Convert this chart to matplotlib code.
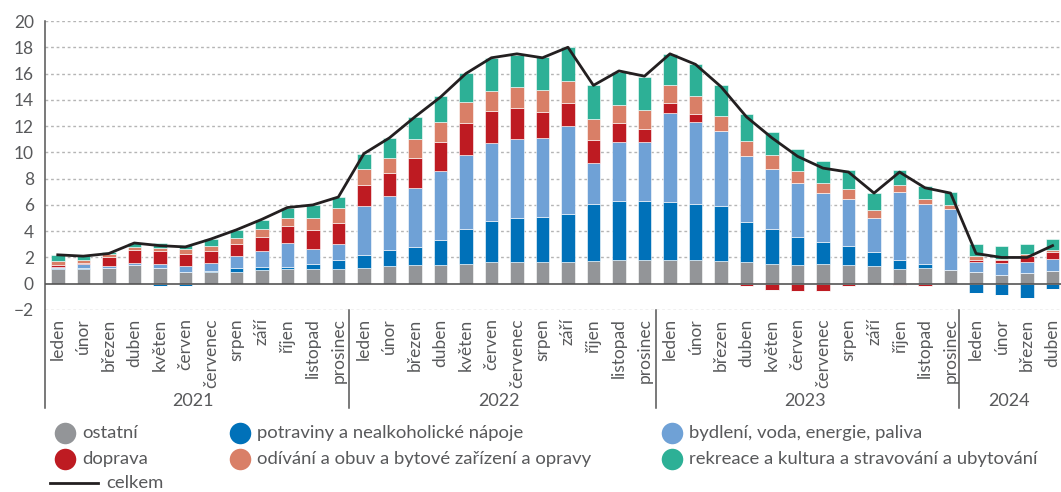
"""
Příspěvky složek ke meziroční inflaci, 2021-2024 (skládaný sloupcový graf + čára celkem).
"""

import numpy as np
import matplotlib
matplotlib.use("Agg")
import matplotlib.pyplot as plt
from matplotlib.lines import Line2D

plt.rcParams["font.family"] = ["Lato", "DejaVu Sans"]

MONTHS = ["leden", "únor", "březen", "duben", "květen", "červen", "červenec",
          "srpen", "září", "říjen", "listopad", "prosinec"]
YEARS = ["2021", "2022", "2023", "2024"]
MONTH_LABELS = MONTHS * 3 + MONTHS[:4]

ostatni = [1.10, 1.15, 1.20, 1.40, 1.20, 0.90, 0.90, 0.90, 1.04, 1.09, 1.09, 1.09,
           1.19, 1.34, 1.42, 1.42, 1.52, 1.62, 1.62, 1.62, 1.62, 1.70, 1.77, 1.77,
           1.77, 1.77, 1.70, 1.62, 1.47, 1.39, 1.47, 1.39, 1.32, 1.09, 1.19, 1.06,
           0.91, 0.68, 0.78, 0.96]
potraviny = [0.10, 0.07, -0.05, 0.00, -0.15, -0.15, 0.08, 0.30, 0.23, 0.18, 0.38, 0.71,
             0.99, 1.22, 1.37, 1.91, 2.66, 3.16, 3.37, 3.44, 3.67, 4.35, 4.51, 4.51,
             4.43, 4.28, 4.20, 3.06, 2.68, 2.18, 1.67, 1.47, 1.09, 0.71, 0.30, -0.05,
             -0.68, -0.89, -1.09, -0.43]
bydleni = [0.10, 0.25, 0.15, 0.20, 0.33, 0.43, 0.63, 0.91, 1.22, 1.82, 1.14, 1.19,
           3.72, 4.15, 4.51, 5.24, 5.65, 5.92, 6.03, 6.05, 6.73, 3.16, 4.53, 4.53,
           6.78, 6.23, 5.70, 5.01, 4.56, 4.13, 3.77, 3.62, 2.58, 5.19, 4.61, 4.63,
           0.76, 0.91, 0.91, 0.91]
doprava = [0.10, 0.13, 0.68, 0.96, 0.96, 0.96, 0.89, 0.89, 1.09, 1.29, 1.47, 1.60,
           1.60, 1.70, 2.30, 2.25, 2.38, 2.48, 2.38, 2.00, 1.77, 1.70, 1.39, 0.96,
           0.81, 0.66, -0.05, -0.20, -0.50, -0.58, -0.58, -0.18, 0.00, -0.10, -0.15, 0.00,
           0.10, 0.20, 0.40, 0.56]
odivani = [0.35, 0.18, 0.20, 0.25, 0.25, 0.38, 0.38, 0.50, 0.60, 0.60, 0.91, 1.14,
           1.24, 1.19, 1.42, 1.47, 1.62, 1.52, 1.57, 1.60, 1.65, 1.62, 1.39, 1.42,
           1.32, 1.34, 1.19, 1.19, 1.09, 0.89, 0.78, 0.73, 0.61, 0.53, 0.38, 0.30,
           0.33, 0.10, 0.18, 0.10]
rekreace = [0.40, 0.38, 0.20, 0.30, 0.33, 0.28, 0.56, 0.58, 0.70, 0.78, 0.99, 0.84,
            1.16, 1.49, 1.67, 1.97, 2.20, 2.46, 2.46, 2.53, 2.56, 2.56, 2.56, 2.58,
            2.38, 2.43, 2.30, 2.03, 1.77, 1.70, 1.67, 1.47, 1.32, 1.16, 0.99, 0.99,
            0.89, 0.96, 0.78, 0.84]
celkem = [2.2, 2.1, 2.3, 3.1, 2.9, 2.8, 3.4, 4.1, 4.9, 5.8, 6.0, 6.6,
          9.9, 11.1, 12.7, 14.2, 16.0, 17.2, 17.5, 17.2, 18.0, 15.1, 16.2, 15.8,
          17.5, 16.7, 15.0, 12.7, 11.1, 9.7, 8.8, 8.5, 6.9, 8.5, 7.3, 6.9,
          2.3, 2.0, 2.0, 2.9]

SERIES = [
    ("ostatní", ostatni, "#939598"),
    ("potraviny a nealkoholické nápoje", potraviny, "#0071b9"),
    ("bydlení, voda, energie, paliva", bydleni, "#6fa1d6"),
    ("doprava", doprava, "#be1b22"),
    ("odívání a obuv a bytové zařízení a opravy", odivani, "#d97f67"),
    ("rekreace a kultura a stravování a ubytování", rekreace, "#2db096"),
]

TXT = "#58595b"
W, H = 1061, 492

fig = plt.figure(figsize=(W / 100, H / 100), dpi=100)
ax = fig.add_axes([45 / W, (H - 310) / H, 1 - 45 / W, (310 - 21) / H])

x = np.arange(len(celkem))
pos_bot = np.zeros(len(x))
neg_bot = np.zeros(len(x))
for name, vals, col in SERIES:
    v = np.array(vals)
    pos = np.where(v > 0, v, 0)
    neg = np.where(v < 0, v, 0)
    ax.bar(x, pos, 0.53, bottom=pos_bot, color=col, edgecolor="white",
           linewidth=0.4, zorder=2)
    ax.bar(x, neg, 0.53, bottom=neg_bot, color=col, edgecolor="white",
           linewidth=0.4, zorder=2)
    pos_bot += pos
    neg_bot += neg

ax.plot(x, celkem, color="#231f20", lw=2.0, zorder=4)

ax.set_xlim(-0.5, 39.33)
ax.set_ylim(-2, 20)
ax.set_yticks(np.arange(-2, 21, 2))
ax.set_yticklabels([f"{t}" if t >= 0 else f"\u2212{-t}" for t in range(-2, 21, 2)])
for t in range(-2, 21, 2):
    if t != 0:
        ax.axhline(t, color="#b5b5b5", lw=1.0, ls=(0, (2, 2)), zorder=0)
ax.axhline(0, color="#555555", lw=1.2, zorder=3)

ax.set_xticks(x)
ax.set_xticklabels(MONTH_LABELS, rotation=90)
ax.tick_params(axis="both", length=0, labelsize=12.5, colors=TXT)
ax.tick_params(axis="x", pad=6)
ax.tick_params(axis="y", pad=8)
for s in ax.spines.values():
    s.set_visible(False)

# left axis line and year separators reaching down to year labels
tr = ax.get_xaxis_transform()
ybot = -(408 - 310) / (310 - 21)
for xs in [-0.5, 11.4, 23.45, 35.35]:
    top = 1.0 if xs < 0 else 0.0
    ax.add_line(Line2D([xs, xs], [ybot, top], transform=tr, color="#555555",
                       lw=1.1, clip_on=False))
for i, yr in enumerate(YEARS):
    n = 12 if i < 3 else 4
    xc = i * 12 + (n - 1) / 2 - 0.2
    ax.text(xc, -(401 - 310) / (310 - 21), yr, transform=tr, ha="center",
            va="center", fontsize=13, color=TXT)

# legend, laid out by hand in figure pixels
def legend_item(px, py, label, color, line=False):
    fx, fy = px / W, 1 - py / H
    if line:
        fig.add_artist(Line2D([50 / W, 98 / W], [fy, fy], color=color, lw=2.0))
        fig.text(106 / W, fy, label, ha="left", va="center", fontsize=13.3, color=TXT)
    else:
        fig.add_artist(Line2D([fx], [fy], marker="o", markersize=15.5, color=color,
                              markeredgewidth=0, linestyle="none"))
        fig.text(fx + 17 / W, fy, label, ha="left", va="center", fontsize=13.3, color=TXT)

cols_px = [65, 240, 672]
rows_px = [433, 459]
for k, (name, vals, col) in enumerate(SERIES):
    legend_item(cols_px[k % 3], rows_px[k // 3], name, col)
legend_item(0, 483, "celkem", "#231f20", line=True)

fig.savefig("out.png", dpi=100)
